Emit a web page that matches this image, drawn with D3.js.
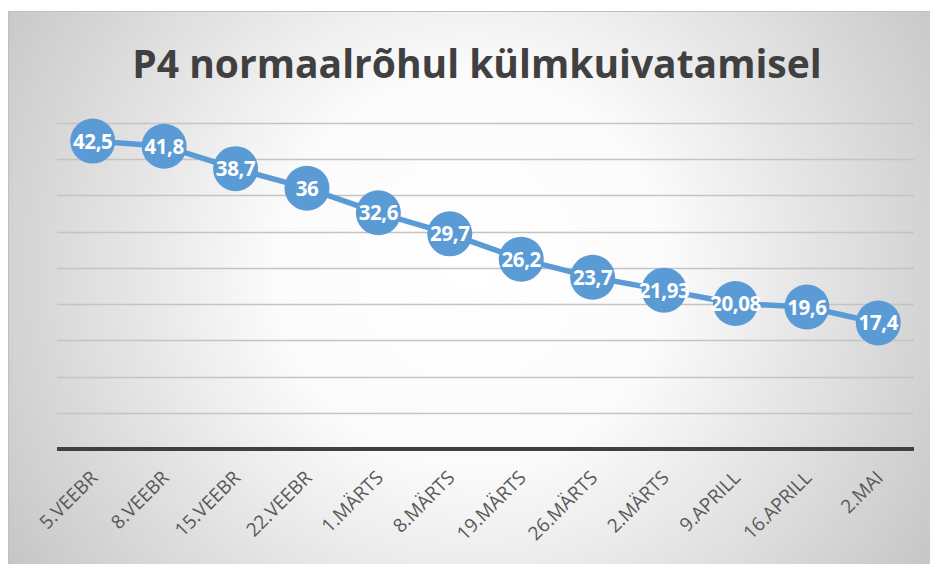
<!DOCTYPE html>
<html>
<head>
<meta charset="utf-8">
<script src="https://cdn.jsdelivr.net/npm/d3@7"></script>
<style>
  body { margin: 0; background: #fff; }
  svg { display: block; }
</style>
</head>
<body>
<div id="vis"></div>
<script>
var dates = ['5.VEEBR', '8.VEEBR', '15.VEEBR', '22.VEEBR', '1.MÄRTS', '8.MÄRTS',
  '19.MÄRTS', '26.MÄRTS', '2.MÄRTS', '9.APRILL', '16.APRILL', '2.MAI'];
var pressure = [42.5, 41.8, 38.7, 36, 32.6, 29.7, 26.2, 23.7, 21.93, 20.08, 19.6, 17.4];
var gridTicks = [0, 5, 10, 15, 20, 25, 30, 35, 40, 45];
var titleText = 'P4 normaalrõhul külmkuivatamisel';

var width = 930,
  height = 564,
  margin = { top: 123, right: 16, bottom: 115, left: 57 };

var svg = d3.select('#vis')
  .append('svg')
  .attr('width', width)
  .attr('height', height);

// background gradient like the office chart area
var defs = svg.append('defs');
var grad = defs.append('radialGradient')
  .attr('id', 'bg')
  .attr('gradientUnits', 'userSpaceOnUse')
  .attr('cx', 470).attr('cy', 270).attr('r', 560);
grad.append('stop').attr('offset', '0%').attr('stop-color', '#ffffff');
grad.append('stop').attr('offset', '35%').attr('stop-color', '#fbfbfb');
grad.append('stop').attr('offset', '100%').attr('stop-color', '#c4c4c4');

svg.append('rect')
  .attr('x', 8.5).attr('y', 11.5)
  .attr('width', width - 8).attr('height', height - 11)
  .attr('fill', 'url(#bg)')
  .attr('stroke', '#bfbfbf')
  .attr('stroke-width', 1);

var x = d3.scaleBand()
  .domain(dates)
  .range([margin.left, width - margin.right]);

var y = d3.scaleLinear()
  .domain([0, 45])
  .range([height - margin.bottom, margin.top]);

// gridlines
svg.append('g')
  .selectAll('line')
  .data(gridTicks.filter(function(d) { return d > 0; }))
  .enter()
  .append('line')
  .attr('x1', margin.left)
  .attr('x2', width - margin.right)
  .attr('y1', function(d) { return Math.round(y(d)) + 0.5; })
  .attr('y2', function(d) { return Math.round(y(d)) + 0.5; })
  .attr('stroke', '#c4c4c4')
  .attr('stroke-width', 1.5);

// x axis line
svg.append('line')
  .attr('x1', margin.left)
  .attr('x2', width - margin.right)
  .attr('y1', y(0))
  .attr('y2', y(0))
  .attr('stroke', '#404040')
  .attr('stroke-width', 4);

// category labels, rotated 45 degrees
var labels = svg.append('g')
  .selectAll('g')
  .data(dates)
  .enter()
  .append('g')
  .attr('transform', function(d) {
    var cx = x(d) + x.bandwidth() / 2 + 6;
    return 'translate(' + cx + ',' + (y(0) + 30) + ') rotate(-45)';
  });

labels.append('text')
  .attr('text-anchor', 'end')
  .attr('font-family', 'Open Sans, sans-serif')
  .attr('font-size', '19px')
  .attr('fill', '#595959')
  .text(function(d) { return d; });

// line
var line = d3.line()
  .x(function(d, i) { return x(dates[i]) + x.bandwidth() / 2; })
  .y(function(d) { return y(d); });

svg.append('path')
  .datum(pressure)
  .attr('d', line)
  .attr('fill', 'none')
  .attr('stroke', '#5b9bd5')
  .attr('stroke-width', 5.5)
  .attr('stroke-linejoin', 'round');

var pts = svg.append('g')
  .selectAll('g')
  .data(pressure)
  .enter()
  .append('g')
  .attr('transform', function(d, i) {
    return 'translate(' + (x(dates[i]) + x.bandwidth() / 2) + ',' + y(d) + ')';
  });

pts.append('circle')
  .attr('r', 22.5)
  .attr('fill', '#5b9bd5');

pts.append('text')
  .attr('text-anchor', 'middle')
  .attr('y', 7.5)
  .attr('font-family', 'Open Sans, sans-serif')
  .attr('font-weight', 'bold')
  .attr('font-size', '20.5px')
  .attr('letter-spacing', '-0.4px')
  .attr('fill', '#ffffff')
  .text(function(d) { return String(d).replace('.', ','); });

// title
svg.append('text')
  .attr('x', 477)
  .attr('y', 78)
  .attr('text-anchor', 'middle')
  .attr('font-family', 'Open Sans, sans-serif')
  .attr('font-weight', 'bold')
  .attr('font-size', '39px')
  .attr('fill', '#404040')
  .text(titleText);
</script>
</body>
</html>
